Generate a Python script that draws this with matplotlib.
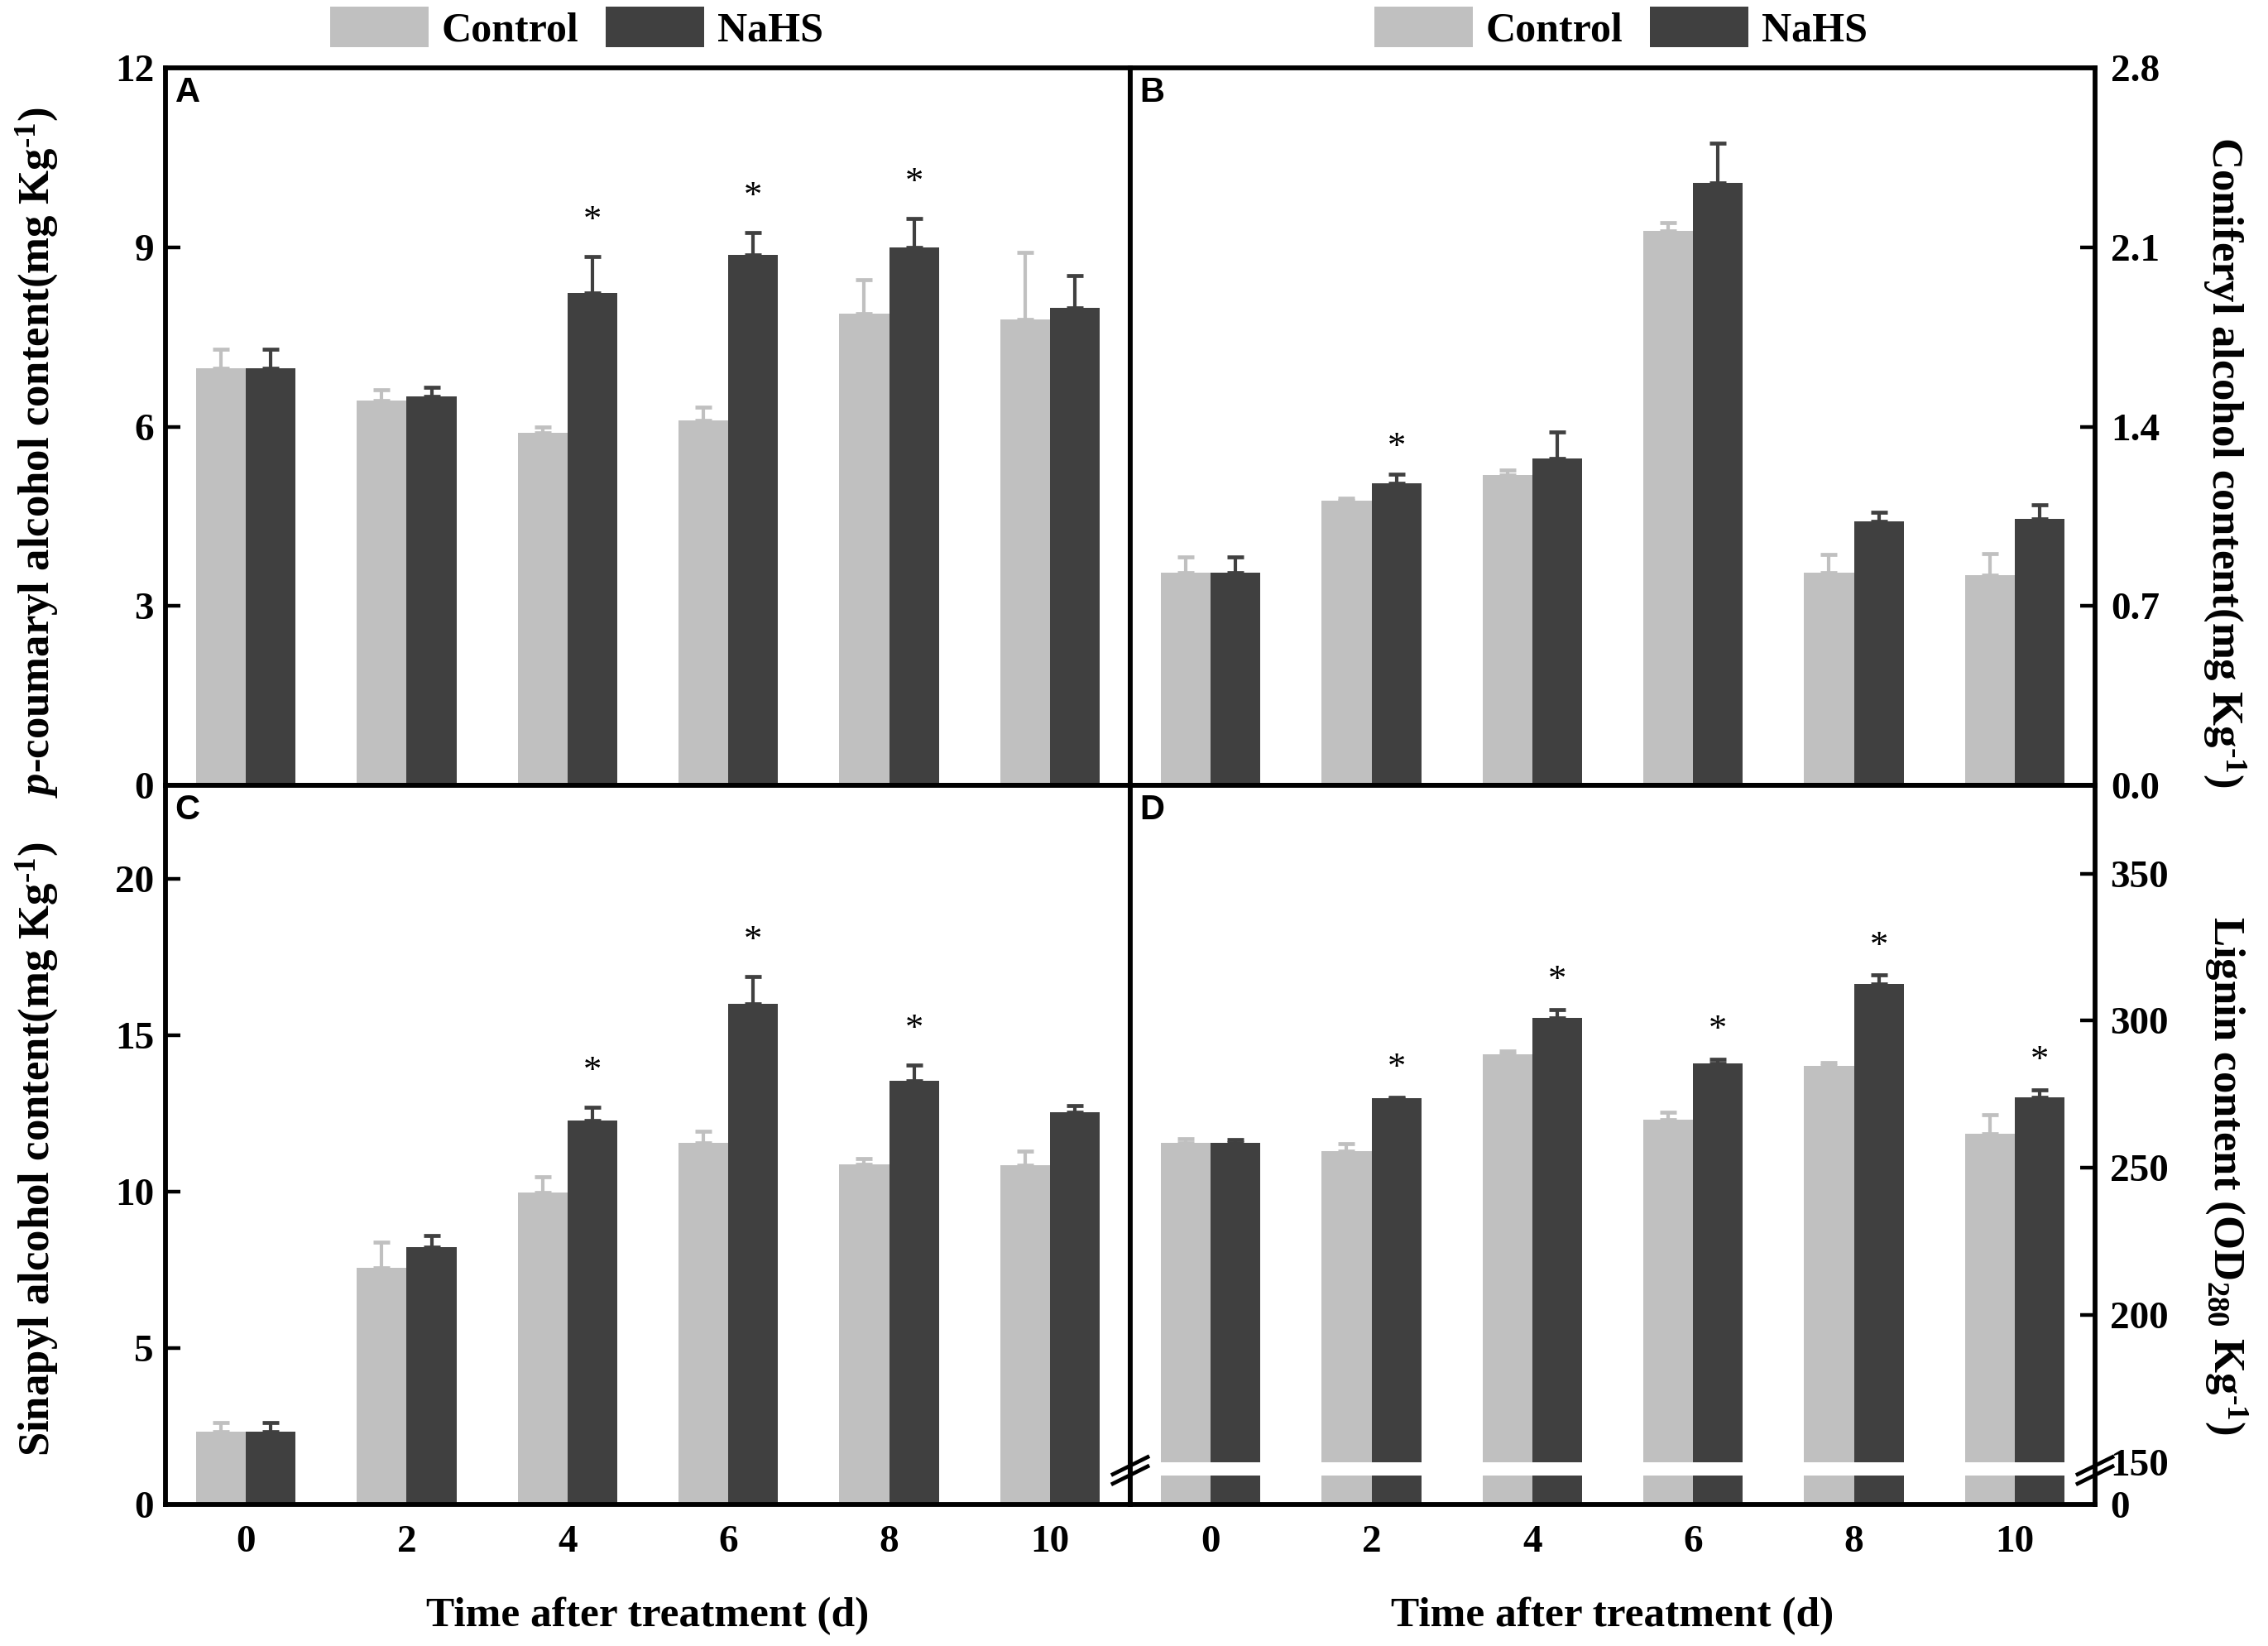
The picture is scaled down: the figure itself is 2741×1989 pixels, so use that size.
import numpy as np
import matplotlib
matplotlib.use('Agg')
import matplotlib.pyplot as plt
from matplotlib.lines import Line2D
from matplotlib.patches import Patch
from matplotlib.ticker import FixedLocator, NullLocator

plt.rcParams['font.family'] = ['Liberation Serif', 'DejaVu Serif']
plt.rcParams['font.weight'] = 'bold'
plt.rcParams['mathtext.fontset'] = 'custom'
plt.rcParams['mathtext.rm'] = 'Liberation Serif:bold'
plt.rcParams['mathtext.it'] = 'Liberation Serif:italic:bold'
plt.rcParams['mathtext.bf'] = 'Liberation Serif:bold'

# ---------------- data ----------------
days = ['0', '2', '4', '6', '8', '10']
series = ['Control', 'NaHS']

a_ctrl = [6.97, 6.43, 5.89, 6.10, 7.89, 7.79]
a_ctrl_err = [0.32, 0.19, 0.10, 0.22, 0.57, 1.13]
a_nahs = [6.97, 6.51, 8.23, 8.87, 9.00, 7.99]
a_nahs_err = [0.32, 0.15, 0.62, 0.37, 0.48, 0.53]
a_sig = [False, False, True, True, True, False]

b_ctrl = [0.83, 1.11, 1.21, 2.165, 0.83, 0.82]
b_ctrl_err = [0.06, 0.01, 0.02, 0.03, 0.07, 0.085]
b_nahs = [0.83, 1.18, 1.275, 2.35, 1.03, 1.04]
b_nahs_err = [0.06, 0.035, 0.105, 0.155, 0.035, 0.055]
b_sig = [False, True, False, False, False, False]

c_ctrl = [2.32, 7.56, 9.98, 11.57, 10.88, 10.85]
c_ctrl_err = [0.30, 0.82, 0.51, 0.37, 0.19, 0.46]
c_nahs = [2.32, 8.23, 12.29, 16.02, 13.55, 12.55]
c_nahs_err = [0.30, 0.37, 0.42, 0.87, 0.50, 0.21]
c_sig = [False, False, True, True, True, False]

d_ctrl = [258.6, 255.7, 288.5, 266.5, 284.6, 261.5]
d_ctrl_err = [1.3, 2.4, 1.3, 2.4, 1.2, 6.5]
d_nahs = [258.6, 273.8, 301.0, 285.6, 312.6, 273.9]
d_nahs_err = [1.1, 0.3, 2.9, 1.3, 2.9, 2.6]
d_sig = [False, True, True, True, True, True]

a_ticks = [0, 3, 6, 9, 12]
a_ticklabels = ['0', '3', '6', '9', '12']
b_ticks = [0.0, 0.7, 1.4, 2.1, 2.8]
b_ticklabels = ['0.0', '0.7', '1.4', '2.1', '2.8']
c_ticks = [0, 5, 10, 15, 20]
c_ticklabels = ['0', '5', '10', '15', '20']
d_ticks = [0, 150, 200, 250, 300, 350]
d_ticklabels = ['0', '150', '200', '250', '300', '350']
d_break = 150

# ---------------- style ----------------
C_CTRL = '#c0c0c0'
C_NAHS = '#404040'
W = 0.31
TICK_FS = 34
LAB_FS = 38

fig = plt.figure(figsize=(27.41, 19.89), dpi=100)
L, M, R = 200 / 2741, 1366 / 2741, 2532 / 2741
T, MY, B = 1 - 82 / 1989, 1 - 949 / 1989, 1 - 1818 / 1989
axA = fig.add_axes([L, MY, M - L, T - MY])
axB = fig.add_axes([M, MY, R - M, T - MY])
axC = fig.add_axes([L, B, M - L, MY - B])
axD = fig.add_axes([M, B, R - M, MY - B])

# broken scale for D
K = 0.0959
def fwd(y):
    y = np.asarray(y, dtype=float)
    return np.where(y <= d_break, y * K, d_break * K + (y - d_break))
def inv(t):
    t = np.asarray(t, dtype=float)
    return np.where(t <= d_break * K, t / K, t - d_break * K + d_break)
axD.set_yscale('function', functions=(fwd, inv))

x = np.arange(len(days))

def draw(ax, ctrl, cerr, nahs, nerr, sig, star_off):
    ax.bar(x - W / 2, ctrl, W, color=C_CTRL, linewidth=0, zorder=2)
    ax.bar(x + W / 2, nahs, W, color=C_NAHS, linewidth=0, zorder=2)
    ax.errorbar(x - W / 2, ctrl, yerr=[np.zeros(len(ctrl)), cerr], fmt='none',
                ecolor=C_CTRL, elinewidth=3, capsize=7.2, capthick=3.4, zorder=2.1)
    ax.errorbar(x + W / 2, nahs, yerr=[np.zeros(len(nahs)), nerr], fmt='none',
                ecolor=C_NAHS, elinewidth=3, capsize=7.2, capthick=3.4, zorder=2.1)
    for i, s in enumerate(sig):
        if s:
            ax.annotate('*', (x[i] + W / 2, nahs[i] + nerr[i]), xytext=(0, star_off),
                        textcoords='offset points', ha='center', va='center',
                        fontsize=32, fontweight='normal', color='black', zorder=3)
    ax.set_xlim(-0.5, len(days) - 0.5)
    ax.set_xticks(x)
    for sp in ax.spines.values():
        sp.set_linewidth(4.2)
    ax.tick_params(axis='x', direction='in', length=11.5, width=3.2, labelsize=TICK_FS, pad=18)
    ax.tick_params(axis='y', direction='in', length=13, width=3.2, labelsize=TICK_FS)

draw(axA, a_ctrl, a_ctrl_err, a_nahs, a_nahs_err, a_sig, 31)
draw(axB, b_ctrl, b_ctrl_err, b_nahs, b_nahs_err, b_sig, 23)
draw(axC, c_ctrl, c_ctrl_err, c_nahs, c_nahs_err, c_sig, 31)
draw(axD, d_ctrl, d_ctrl_err, d_nahs, d_nahs_err, d_sig, 25)

for ax in (axA, axB):
    ax.set_xticklabels([])
for ax in (axC, axD):
    ax.set_xticklabels(days)

axA.set_ylim(0, 12)
axA.set_yticks(a_ticks)
axA.set_yticklabels(a_ticklabels)
axA.tick_params(axis='y', pad=10)

axC.set_ylim(0, 23)
axC.set_yticks(c_ticks)
axC.set_yticklabels(c_ticklabels)
axC.tick_params(axis='y', pad=10)

axB.set_ylim(0, 2.8)
axB.yaxis.tick_right()
axB.set_yticks(b_ticks)
axB.set_yticklabels(b_ticklabels)
axB.tick_params(axis='y', pad=14)

axD.set_ylim(0, 380)
axD.yaxis.tick_right()
axD.yaxis.set_major_locator(FixedLocator(d_ticks))
axD.yaxis.set_minor_locator(NullLocator())
axD.set_yticklabels(d_ticklabels)
axD.tick_params(axis='y', pad=13)
for i in (0, 1):
    axD.yaxis.get_major_ticks()[i].tick2line.set_visible(False)

# white gap of the broken axis
axD.axhspan(103, d_break, color='white', zorder=2.3, linewidth=0)
for xs in (0.0, 1.0):
    for dy in (0.0, 0.013):
        axD.add_line(Line2D([xs - 0.018, xs + 0.018], [0.029 + dy, 0.053 + dy],
                            transform=axD.transAxes, color='black', lw=3.4,
                            clip_on=False, zorder=6))

# panel letters
for ax, letter in zip((axA, axB, axC, axD), 'ABCD'):
    ax.text(0.010, 0.988, letter, transform=ax.transAxes, ha='left', va='top',
            fontsize=30, fontweight='bold', family=['Liberation Sans', 'DejaVu Sans'])

# axis labels
SUP = r'$^{\text{-1}}$'
fig.text(0.0164, 0.725, r'$\it{p}$-coumaryl alcohol content(mg Kg' + SUP + ')',
         rotation=90, ha='center', va='center', fontsize=LAB_FS, fontweight='bold')
fig.text(0.0164, 0.302, 'Sinapyl alcohol content(mg Kg' + SUP + ')',
         rotation=90, ha='center', va='center', fontsize=LAB_FS, fontweight='bold')
fig.text(0.9807, 0.7195, 'Coniferyl alcohol content(mg Kg' + SUP + ')',
         rotation=270, ha='center', va='center', fontsize=LAB_FS, fontweight='bold')
fig.text(0.9814, 0.286, r'Lignin content (OD$_{\text{280}}$ Kg' + SUP + ')',
         rotation=270, ha='center', va='center', fontsize=LAB_FS, fontweight='bold')
fig.text((L + M) / 2, 0.0181, 'Time after treatment (d)', ha='center', va='center',
         fontsize=37, fontweight='bold')
fig.text((M + R) / 2, 0.0181, 'Time after treatment (d)', ha='center', va='center',
         fontsize=37, fontweight='bold')

# legends
handles = [Patch(facecolor=C_CTRL, edgecolor='none'), Patch(facecolor=C_NAHS, edgecolor='none')]
for xa in (399 / 2741, 1661 / 2741):
    fig.legend(handles, series, loc='center left', bbox_to_anchor=(xa, 1 - 34 / 1989),
               ncol=2, frameon=False, handlelength=2.38, handleheight=1.15,
               handletextpad=0.32, columnspacing=0.64, borderpad=0, borderaxespad=0,
               prop={'weight': 'bold', 'size': 36})

fig.savefig('out.png', dpi=100)
